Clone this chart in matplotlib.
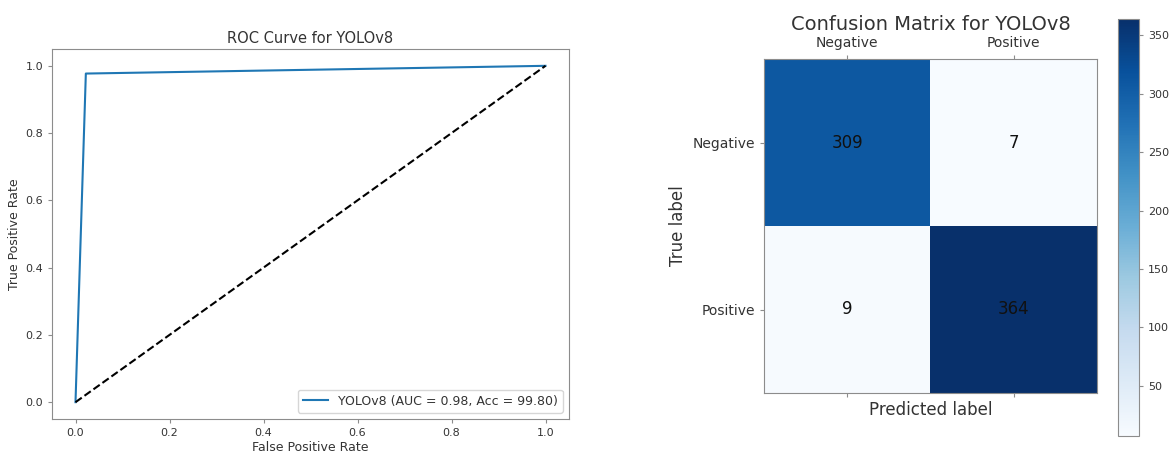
import numpy as np
import matplotlib
matplotlib.use("Agg")
import matplotlib.pyplot as plt

# ROC curve points
fpr = [0.0, 0.022, 1.0]
tpr = [0.0, 0.977, 1.0]
roc_label = "YOLOv8 (AUC = 0.98, Acc = 99.80)"

# confusion matrix
class_names = ["Negative", "Positive"]
cm = np.array([[309, 7],
               [9, 364]])
cbar_ticks = [50, 100, 150, 200, 250, 300, 350]

W, H = 1172, 453
fig = plt.figure(figsize=(W / 100, H / 100), dpi=100)

def box(l, t, r, b):
    return [l / W, 1 - b / H, (r - l) / W, (b - t) / H]

frame_col = "#8c8c8c"
text_col = "#333333"

# ---- ROC curve ----
ax1 = fig.add_axes(box(52, 49, 569, 419))
ax1.plot(fpr, tpr, color="#1f77b4", lw=1.5, label=roc_label)
ax1.plot([0, 1], [0, 1], "k--", lw=1.5)
ax1.set_xlim(-0.05, 1.05)
ax1.set_ylim(-0.05, 1.05)
ax1.set_xticks([0, 0.2, 0.4, 0.6, 0.8, 1.0])
ax1.set_yticks([0, 0.2, 0.4, 0.6, 0.8, 1.0])
ax1.tick_params(labelsize=8, colors=frame_col, labelcolor=text_col, length=3)
ax1.set_xlabel("False Positive Rate", fontsize=9, color=text_col, labelpad=2)
ax1.set_ylabel("True Positive Rate", fontsize=9, color=text_col, labelpad=3)
ax1.set_title("ROC Curve for YOLOv8", fontsize=10.5, color=text_col, pad=4)
for s in ax1.spines.values():
    s.set_color(frame_col)
leg = ax1.legend(loc="lower right", fontsize=9, labelcolor=text_col)

# ---- confusion matrix ----
ax2 = fig.add_axes(box(764, 59, 1097, 393))
im = ax2.imshow(cm, cmap="Blues", interpolation="nearest", aspect="auto")
for i in range(cm.shape[0]):
    for j in range(cm.shape[1]):
        ax2.text(j, i, str(cm[i, j]), ha="center", va="center", fontsize=12, color="#111111")
ax2.set_xticks(range(len(class_names)))
ax2.set_yticks(range(len(class_names)))
ax2.set_xticklabels(class_names)
ax2.set_yticklabels(class_names)
ax2.tick_params(axis="x", top=True, labeltop=True, bottom=True, labelbottom=False)
ax2.tick_params(labelsize=10, colors=frame_col, labelcolor=text_col, length=3)
ax2.set_xlabel("Predicted label", fontsize=12, color=text_col, labelpad=3)
ax2.set_ylabel("True label", fontsize=12, color=text_col, labelpad=4)
ax2.set_title("Confusion Matrix for YOLOv8", fontsize=14, color=text_col, pad=21)
for s in ax2.spines.values():
    s.set_color(frame_col)

cax = fig.add_axes(box(1118, 19, 1139, 436))
cb = fig.colorbar(im, cax=cax, ticks=cbar_ticks)
cb.ax.tick_params(labelsize=8, colors=frame_col, labelcolor=text_col, length=3)
cb.outline.set_edgecolor(frame_col)

fig.savefig("out.png", dpi=100)
